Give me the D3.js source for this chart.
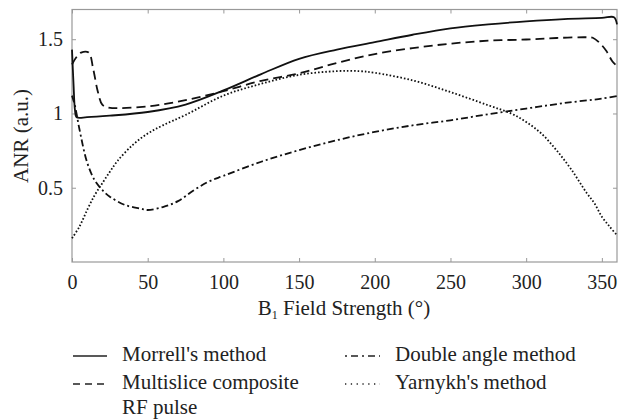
<!DOCTYPE html>
<html>
<head>
<meta charset="utf-8">
<script src="https://cdn.jsdelivr.net/npm/d3@7"></script>
<style>
  body { margin: 0; background: #fff; }
</style>
</head>
<body>
<div class="box"></div>
<script>
// valeurs (degrés, ANR)
const morrellDeg = [0, 1, 2, 3, 10, 25, 50, 75, 100, 125, 150, 175, 200, 225, 250, 275, 300, 325, 350, 358, 360];
const morrellVal = [1.43, 1.2, 1.02, 0.975, 0.975, 0.985, 1.01, 1.06, 1.155, 1.265, 1.368, 1.43, 1.48, 1.53, 1.573, 1.60, 1.62, 1.635, 1.643, 1.648, 1.6];

const multiDeg = [0, 3, 6, 11, 14, 17, 20, 24, 50, 75, 100, 125, 150, 175, 200, 225, 250, 275, 300, 320, 340, 344, 349, 353, 357, 360];
const multiVal = [1.33, 1.38, 1.41, 1.41, 1.3, 1.15, 1.06, 1.04, 1.048, 1.09, 1.15, 1.22, 1.27, 1.34, 1.40, 1.44, 1.47, 1.49, 1.498, 1.508, 1.513, 1.51, 1.47, 1.42, 1.35, 1.32];

const doubleDeg = [0, 2, 5, 10, 15, 20, 25, 35, 45, 50, 60, 70, 80, 90, 100, 125, 150, 175, 200, 225, 250, 275, 300, 325, 350, 360];
const doubleVal = [1.12, 1.05, 0.89, 0.67, 0.55, 0.485, 0.44, 0.384, 0.36, 0.35, 0.37, 0.41, 0.48, 0.54, 0.58, 0.675, 0.753, 0.82, 0.876, 0.92, 0.954, 0.995, 1.033, 1.07, 1.10, 1.117];

const yarnykhDeg = [0, 5, 10, 15, 20, 25, 30, 40, 50, 60, 75, 100, 125, 150, 175, 190, 200, 225, 250, 275, 290, 300, 310, 320, 330, 340, 345, 350, 355, 360];
const yarnykhVal = [0.16, 0.24, 0.35, 0.45, 0.53, 0.607, 0.68, 0.787, 0.865, 0.92, 0.99, 1.12, 1.2, 1.26, 1.285, 1.285, 1.274, 1.223, 1.144, 1.055, 1.0, 0.943, 0.865, 0.753, 0.62, 0.464, 0.397, 0.305, 0.24, 0.18];

const xTicks = [0, 50, 100, 150, 200, 250, 300, 350];
const yTicks = [0.5, 1, 1.5];

const series = [
  {name: "Morrell's method", deg: morrellDeg, val: morrellVal, dash: null, legDash: null, legend: [0, 0]},
  {name: 'Multislice composite', name2: 'RF pulse', deg: multiDeg, val: multiVal, dash: '9,5', legDash: '7,5', legend: [0, 1]},
  {name: 'Double angle method', deg: doubleDeg, val: doubleVal, dash: '7,3,2,3', legDash: '2,4,7,4', legend: [1, 0]},
  {name: "Yarnykh's method", deg: yarnykhDeg, val: yarnykhVal, dash: '1.6,2', legDash: '1.3,4.5', legend: [1, 1]}
];

const dims = {width: 618, height: 419, left: 72, right: 617, top: 9.5, bottom: 262};
const fontFamily = '"Liberation Serif", "Times New Roman", "DejaVu Serif", serif';
const tickSize = 20;   // chiffres des axes
const textSize = 21;   // titres et légende
const axisColor = '#999';

const svg = d3.select('.box')
              .append('svg')
              .attr('width', dims.width)
              .attr('height', dims.height)
              .attr('font-family', fontFamily);

const x = d3.scaleLinear().domain([0, 360]).range([dims.left, dims.right]);
const y = d3.scaleLinear().domain([0, 1.7]).range([dims.bottom, dims.top]);

// axes avec graduations vers l'intérieur
const styleAxis = g => {
    g.attr('font-family', fontFamily).attr('font-size', tickSize);
    g.select('.domain').remove();
    g.selectAll('.tick line').attr('stroke', axisColor);
    g.selectAll('.tick text').attr('fill', '#222');
};

svg.append('g')
   .attr('transform', `translate(0, ${dims.bottom})`)
   .call(d3.axisBottom(x).tickValues(xTicks).tickSize(-4).tickPadding(13).tickFormat(d3.format('d')))
   .call(styleAxis);

svg.append('g')
   .attr('transform', `translate(${dims.left}, 0)`)
   .call(d3.axisLeft(y).tickValues(yTicks).tickSize(-4).tickPadding(9).tickFormat(d => d))
   .call(styleAxis);

svg.append('g')
   .attr('transform', `translate(0, ${dims.top})`)
   .call(d3.axisTop(x).tickValues(xTicks).tickSize(-4).tickFormat(''))
   .call(styleAxis);

svg.append('g')
   .attr('transform', `translate(${dims.right}, 0)`)
   .call(d3.axisRight(y).tickValues(yTicks).tickSize(-4).tickFormat(''))
   .call(styleAxis);

svg.append('rect')
   .attr('x', dims.left)
   .attr('y', dims.top)
   .attr('width', dims.right - dims.left)
   .attr('height', dims.bottom - dims.top)
   .attr('fill', 'none')
   .attr('stroke', axisColor)
   .attr('stroke-width', 1.2);

// courbes
const line = d3.line()
               .x(d => x(d[0]))
               .y(d => y(d[1]))
               .curve(d3.curveCatmullRom.alpha(0.5));

series.forEach(s => {
    const pts = s.deg.map((d, i) => [d, s.val[i]]);
    svg.append('path')
       .datum(pts)
       .attr('d', line)
       .attr('fill', 'none')
       .attr('stroke', '#111')
       .attr('stroke-width', 1.8)
       .attr('stroke-dasharray', s.dash);
});

// titres des axes
const xTitle = svg.append('text')
                  .attr('x', 344)
                  .attr('y', 315)
                  .attr('text-anchor', 'middle')
                  .attr('fill', '#222')
                  .attr('font-size', textSize);
xTitle.append('tspan').text('B');
xTitle.append('tspan').attr('dy', 4).attr('font-size', 12).text('1');
xTitle.append('tspan').attr('dy', -4).text(' Field Strength (°)');

svg.append('text')
   .attr('transform', 'translate(28, 136) rotate(-90)')
   .attr('text-anchor', 'middle')
   .attr('fill', '#222')
   .attr('font-size', textSize)
   .text('ANR (a.u.)');

// légende
const legCols = [{x0: 73, x1: 107, tx: 122}, {x0: 345, x1: 380, tx: 395}];
const legRows = [361, 389];

series.forEach(s => {
    const col = legCols[s.legend[0]];
    const base = legRows[s.legend[1]];
    svg.append('line')
       .attr('x1', col.x0).attr('x2', col.x1)
       .attr('y1', base - 5).attr('y2', base - 5)
       .attr('stroke', '#222')
       .attr('stroke-width', 1.3)
       .attr('stroke-dasharray', s.legDash);
    svg.append('text')
       .attr('x', col.tx)
       .attr('y', base)
       .attr('fill', '#222')
       .attr('font-size', textSize)
       .text(s.name);
    if (s.name2) {
        svg.append('text')
           .attr('x', col.tx)
           .attr('y', base + 25)
           .attr('fill', '#222')
           .attr('font-size', textSize)
           .text(s.name2);
    }
});
</script>
</body>
</html>
